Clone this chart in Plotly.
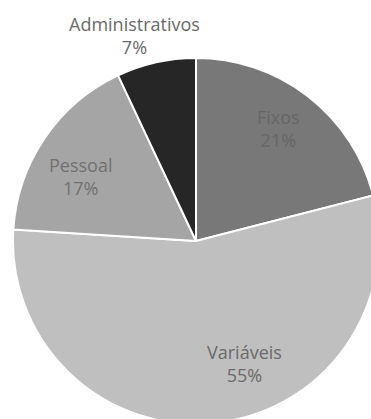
import math
import plotly.graph_objects as go

labels = ["Fixos", "Variáveis", "Pessoal", "Administrativos"]
values = [21, 55, 17, 7]
colors = ["#787878", "#bfbfbf", "#a5a5a5", "#262626"]
text_colors = ["#666666", "#6a6a6a", "#717171", "#6a6a6a"]

# label placement style (fraction of radius, angular nudge in degrees)
label_radius = [0.76, 0.72, 0.72, 1.17]
label_nudge = [-1.5, -16, -5, -4]

W, H = 400, 440
cx, cy, r = 196, 241, 183
FONT = "Open Sans"
FS = 18

fig = go.Figure(go.Pie(
    labels=labels,
    values=values,
    sort=False,
    direction="clockwise",
    rotation=0,
    marker=dict(colors=colors, line=dict(color="white", width=2)),
    textinfo="none",
    showlegend=False,
    hoverinfo="skip",
    domain=dict(x=[(cx - r) / W, (cx + r) / W],
                y=[(H - (cy + r)) / H, (H - (cy - r)) / H]),
))

total = sum(values)
cum = 0
for lab, v, tc, f, nd in zip(labels, values, text_colors, label_radius, label_nudge):
    mid = (cum + v / 2) / total * 360 + nd
    cum += v
    th = math.radians(mid)
    px = cx + f * r * math.sin(th)
    py = cy - f * r * math.cos(th)
    pct = round(v / total * 100)
    fig.add_annotation(
        x=px / W, y=(H - py) / H, xref="paper", yref="paper",
        text=f"{lab}<br>{pct}%", showarrow=False,
        xanchor="center", yanchor="middle", align="center",
        font=dict(family=FONT, size=FS, color=tc),
    )

fig.update_layout(
    width=W, height=H,
    margin=dict(l=0, r=0, t=0, b=0),
    paper_bgcolor="white",
    plot_bgcolor="white",
)
fig.write_html("out.html", config={"displayModeBar": False},
               post_script="document.body.style.margin='0';document.body.style.overflow='hidden';")
